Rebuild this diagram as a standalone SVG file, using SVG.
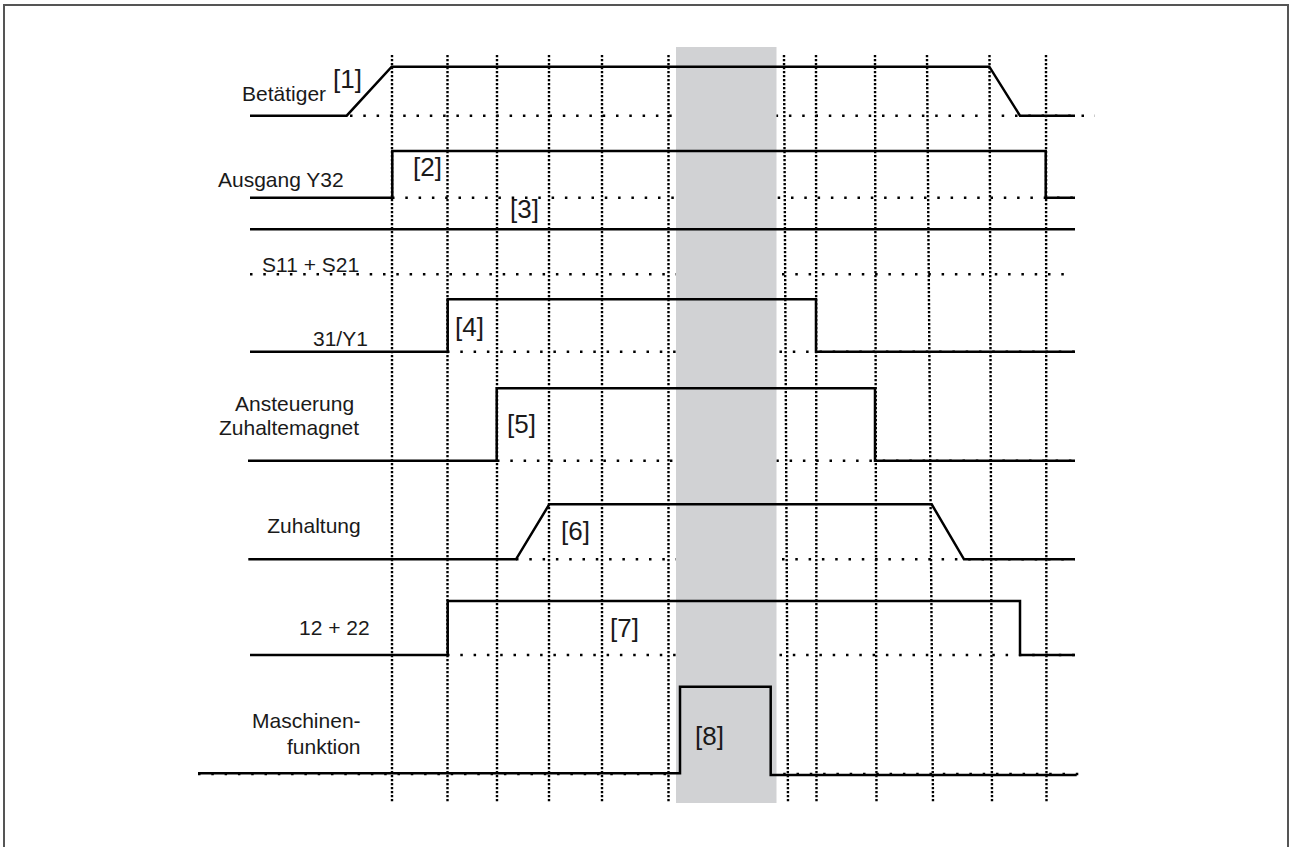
<svg xmlns="http://www.w3.org/2000/svg" width="1290" height="847" viewBox="0 0 1290 847">
<style>
.lbl{font-family:"Liberation Sans",Arial,sans-serif;font-size:21px;fill:#1a1a1a}
.br{font-family:"Liberation Sans",Arial,sans-serif;font-size:26px;fill:#1a1a1a}
.vg{stroke:#000;stroke-width:2.4;stroke-dasharray:2.2 1.8;fill:none}
.hg{stroke:#000;stroke-width:2.5;stroke-dasharray:2.5 10.8;fill:none}
.sig{stroke:#000;stroke-width:2.5;fill:none;stroke-linejoin:miter}
</style>
<rect x="0" y="0" width="1290" height="847" fill="#fff"/>
<rect x="4" y="5" width="1284" height="850" fill="none" stroke="#555" stroke-width="2"/>
<g id="grid">
<line class="vg" x1="392" y1="55" x2="392" y2="803"/>
<line class="vg" x1="447.5" y1="55" x2="447.5" y2="803"/>
<line class="vg" x1="497" y1="55" x2="497" y2="803"/>
<line class="vg" x1="549" y1="55" x2="549" y2="803"/>
<line class="vg" x1="602" y1="55" x2="602" y2="803"/>
<line class="vg" x1="668.5" y1="55" x2="668.5" y2="803"/>
<line class="vg" x1="784" y1="55" x2="788" y2="803"/>
<line class="vg" x1="816" y1="55" x2="816.5" y2="803"/>
<line class="vg" x1="875" y1="55" x2="876.5" y2="803"/>
<line class="vg" x1="927" y1="55" x2="933" y2="803"/>
<line class="vg" x1="989.5" y1="55" x2="992" y2="803"/>
<line class="vg" x1="1046" y1="55" x2="1046.5" y2="803"/>
<line class="hg" x1="350" y1="115.7" x2="1095" y2="115.7"/>
<line class="hg" x1="392" y1="197.7" x2="1075" y2="197.7"/>
<line class="hg" x1="250" y1="274.3" x2="1068" y2="274.3"/>
<line class="hg" x1="447" y1="351.7" x2="1075" y2="351.7"/>
<line class="hg" x1="497" y1="460.7" x2="1075" y2="460.7"/>
<line class="hg" x1="516" y1="559.3" x2="1075" y2="559.3"/>
<line class="hg" x1="447" y1="655" x2="1075" y2="655"/>
<line class="hg" x1="198" y1="774" x2="1082" y2="774"/>
</g>
<rect id="band" x="676" y="47" width="100.5" height="756" fill="#d1d2d4"/>
<g id="connectors">
<polyline class="sig" points="250,115.7 346.7,115.7 391.7,66.7 989.3,66.7 1020,115.7 1075,115.7"/>
<polyline class="sig" points="250,197.7 392.3,197.7 392.3,151 1045.7,151 1045.7,197.7 1075,197.7"/>
<polyline class="sig" points="250,229.3 1075,229.3"/>
<polyline class="sig" points="250,351.7 447.7,351.7 447.7,299.3 816,299.3 816,351.7 1075,351.7"/>
<polyline class="sig" points="248,460.7 496.7,460.7 496.7,388.3 875,388.3 875,460.7 1075,460.7"/>
<polyline class="sig" points="248.3,559.3 516,559.3 549.3,504.3 931.7,504.3 964,559.3 1075,559.3"/>
<polyline class="sig" points="250,655 447.7,655 447.7,601 1020,601 1020,655 1075,655"/>
<polyline class="sig" points="198,773.3 680,773.3 680,686.7 770.7,686.7 770.7,775 1076.7,775"/>
</g>
<g id="n1"><text class="lbl" x="242" y="101">Betätiger</text><text class="br" x="333" y="88">[1]</text></g>
<g id="n2"><text class="lbl" x="218" y="187">Ausgang Y32</text><text class="br" x="413" y="176">[2]</text></g>
<g id="n3"><text class="br" x="510" y="217.5">[3]</text></g>
<g id="n4"><text class="lbl" x="262" y="272">S11 + S21</text></g>
<g id="n5"><text class="lbl" x="313" y="346">31/Y1</text><text class="br" x="455" y="336">[4]</text></g>
<g id="n6"><text class="lbl" x="235" y="410.5">Ansteuerung</text><text class="lbl" x="219" y="435">Zuhaltemagnet</text><text class="br" x="507" y="433">[5]</text></g>
<g id="n7"><text class="lbl" x="267.3" y="533">Zuhaltung</text><text class="br" x="561" y="540">[6]</text></g>
<g id="n8"><text class="lbl" x="299" y="635">12 + 22</text><text class="br" x="610" y="637">[7]</text></g>
<g id="n9"><text class="lbl" x="252" y="728">Maschinen-</text><text class="lbl" x="287" y="754">funktion</text><text class="br" x="695" y="745">[8]</text></g>
</svg>
